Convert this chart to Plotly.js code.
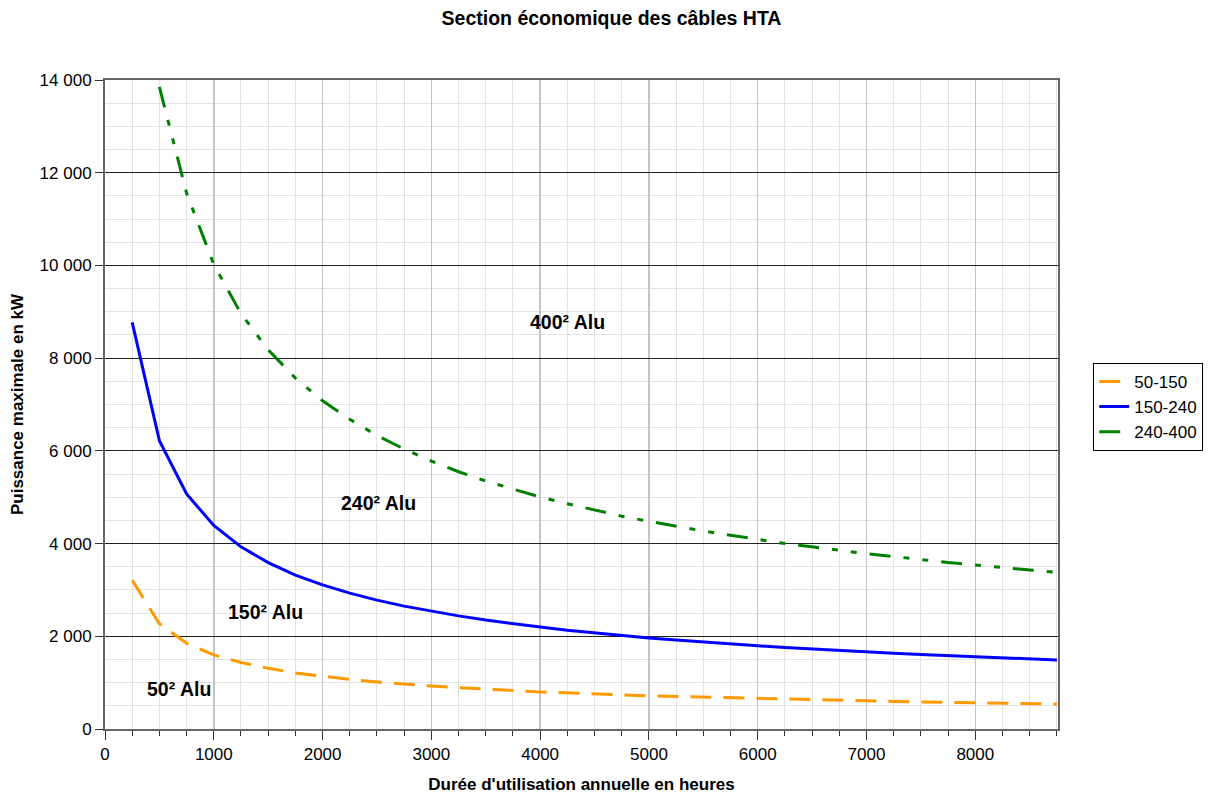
<!DOCTYPE html>
<html><head><meta charset="utf-8">
<script src="https://cdn.plot.ly/plotly-3.0.1.min.js"></script>
<style>body{margin:0;background:#fff}#c{width:1223px;height:794px}</style>
</head><body><div id="c"></div>
<script>
const hours = [250,500,750,1000,1250,1500,1750,2000,2250,2500,2750,3000,3250,3500,3750,4000,4250,4500,4750,5000,5250,5500,5750,6000,6250,6500,6750,7000,7250,7500,7750,8000,8250,8500,8750];
const s50_150 = [3210,2270,1850,1600,1435,1310,1210,1135,1070,1015,965,925,890,855,830,800,780,755,735,715,700,685,670,655,640,630,615,605,595,585,575,565,560,550,540];
const s150_240 = [8770,6220,5070,4390,3930,3590,3320,3110,2930,2780,2650,2540,2440,2350,2270,2200,2130,2070,2020,1965,1920,1875,1830,1795,1760,1725,1690,1660,1635,1605,1580,1555,1530,1510,1490];
const hours240 = hours.slice(1);
const s240_400 = [13850,11560,10020,8960,8180,7570,7080,6680,6330,6040,5780,5550,5350,5170,5005,4860,4720,4590,4480,4370,4270,4180,4090,4000,3930,3850,3780,3720,3650,3590,3540,3480,3430,3380];
const seriesNames = ['50-150','150-240','240-400'];
const zoneLabels = ['400² Alu','240² Alu','150² Alu','50² Alu'];
const zoneX = [4250,2510,1475,680];
const zoneY = [8780,4880,2520,860];

const font = 'Liberation Sans, Arial, sans-serif';
const traces = [
  {x:hours, y:s50_150, name:seriesNames[0], mode:'lines', line:{color:'#FF9900', width:3, dash:'21px,12px'}},
  {x:hours, y:s150_240, name:seriesNames[1], mode:'lines', line:{color:'#0000FF', width:3}},
  {x:hours240, y:s240_400, name:seriesNames[2], mode:'lines', line:{color:'#008000', width:3, dash:'21px,13px,6px,13px,6px,13px'}}
];
const layout = {
  width:1223, height:794,
  margin:{l:105, r:165, t:80, b:65},
  paper_bgcolor:'#fff', plot_bgcolor:'#fff',
  separators:', ',
  font:{family:font, size:17, color:'#000'},
  title:{text:'<b>Section économique des câbles HTA</b>', font:{family:font, size:19.5}, x:0.5, xanchor:'center', y:0.977, yanchor:'middle'},
  showlegend:true,
  legend:{x:1.037, xanchor:'left', y:0.564, yanchor:'top', bordercolor:'#000', borderwidth:1, font:{family:font, size:17}, tracegroupgap:0},
  xaxis:{
    range:[0,8760], dtick:1000, tick0:0, tickformat:'d',
    showgrid:true, gridcolor:'#c4c4c4', gridwidth:1.5,
    minor:{dtick:250, showgrid:true, gridcolor:'#e2e2e2', gridwidth:1, ticks:'outside', ticklen:5, tickcolor:'#333'},
    ticks:'outside', ticklen:9, tickcolor:'#333',
    showline:true, linecolor:'#666', linewidth:2, mirror:true, zeroline:false,
    tickfont:{family:font, size:17},
    title:{text:'<b>Durée d\'utilisation annuelle en heures</b>', font:{family:font, size:17}, standoff:15}
  },
  yaxis:{
    range:[0,14000], dtick:2000, tick0:0, tickformat:',d',
    showgrid:true, gridcolor:'#222', gridwidth:1,
    minor:{dtick:500, showgrid:true, gridcolor:'#e2e2e2', gridwidth:1},
    ticks:'outside', ticklen:8, tickcolor:'#333',
    showline:true, linecolor:'#666', linewidth:2, mirror:true, zeroline:false,
    tickfont:{family:font, size:17},
    title:{text:'<b>Puissance maximale en kW</b>', font:{family:font, size:17}, standoff:12}
  },
  annotations: zoneLabels.map((t,i)=>({x:zoneX[i], y:zoneY[i], xref:'x', yref:'y', text:'<b>'+t+'</b>', showarrow:false, font:{family:font, size:19.5, color:'#000'}}))
};
Plotly.newPlot('c', traces, layout, {staticPlot:true, displayModeBar:false});
</script></body></html>
